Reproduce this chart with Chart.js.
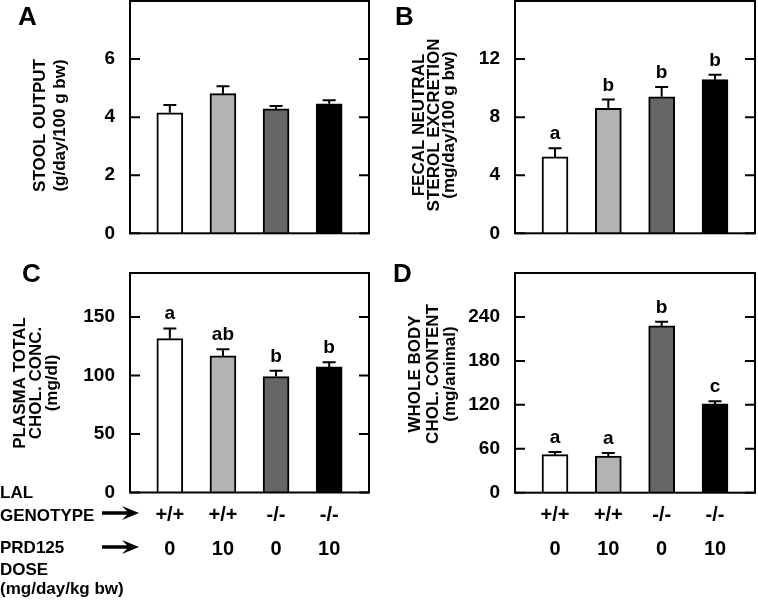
<!DOCTYPE html>
<html><head><meta charset="utf-8">
<script src="https://cdn.jsdelivr.net/npm/chart.js@4"></script>
<style>
html,body{margin:0;padding:0;background:#fff;}
body{width:758px;height:601px;position:relative;overflow:hidden;}
canvas{position:absolute;}
</style></head><body>
<canvas id="cA" width="380" height="250" style="left:0;top:0"></canvas>
<canvas id="cB" width="378" height="250" style="left:380px;top:0"></canvas>
<canvas id="cC" width="380" height="351" style="left:0;top:250px"></canvas>
<canvas id="cD" width="378" height="351" style="left:380px;top:250px"></canvas>
<script>
// ---- data ----
const genotype = ['+/+', '+/+', '-/-', '-/-'];
const dose = ['0', '10', '0', '10'];
const barColors = ['#ffffff', '#b3b3b3', '#666666', '#000000'];

const stoolOutput = [4.15, 4.81, 4.29, 4.46];
const stoolOutputSem = [0.27, 0.25, 0.09, 0.12];
const stoolOutputSig = ['', '', '', ''];
const stoolTicks = [0, 2, 4, 6];

const fecalSterol = [5.26, 8.60, 9.40, 10.58];
const fecalSterolSem = [0.60, 0.61, 0.68, 0.34];
const fecalSterolSig = ['a', 'b', 'b', 'b'];
const fecalTicks = [0, 4, 8, 12];

const plasmaChol = [131.5, 116.7, 99.0, 107.3];
const plasmaCholSem = [8.6, 5.7, 5.1, 4.0];
const plasmaCholSig = ['a', 'ab', 'b', 'b'];
const plasmaTicks = [0, 50, 100, 150];

const wholeBodyChol = [51.9, 50.1, 227.7, 121.2];
const wholeBodyCholSem = [3.7, 4.1, 5.9, 3.8];
const wholeBodyCholSig = ['a', 'a', 'b', 'c'];
const wholeBodyTicks = [0, 60, 120, 180, 240];

const FONT = "'Liberation Sans', Arial, Helvetica, sans-serif";

function panelPlugin(cfg) {
  return {
    id: 'panel' + cfg.letter,
    afterDatasetsDraw(chart) {
      const ctx = chart.ctx;
      const ys = chart.scales.y;
      const meta = chart.getDatasetMeta(0);
      ctx.save();
      ctx.strokeStyle = '#000';
      ctx.lineWidth = 2;
      ctx.fillStyle = '#000';
      ctx.font = 'bold 19px ' + FONT;
      ctx.textAlign = 'center';
      ctx.textBaseline = 'alphabetic';
      cfg.values.forEach((v, i) => {
        const el = meta.data[i];
        const x = el.x;
        const yb = ys.getPixelForValue(v);
        const yt = ys.getPixelForValue(v + cfg.sem[i]);
        ctx.beginPath();
        ctx.moveTo(x, yb);
        ctx.lineTo(x, yt);
        ctx.moveTo(x - 6.5, yt);
        ctx.lineTo(x + 6.5, yt);
        ctx.stroke();
        if (cfg.sig[i]) ctx.fillText(cfg.sig[i], x, yt - 9);
      });
      ctx.restore();
    },
    afterDraw(chart) {
      const ctx = chart.ctx;
      const a = chart.chartArea;
      const ys = chart.scales.y;
      ctx.save();
      ctx.strokeStyle = '#000';
      ctx.lineWidth = 2;
      ctx.strokeRect(a.left, a.top, a.right - a.left, a.bottom - a.top);
      ctx.beginPath();
      ys.ticks.forEach(t => {
        const py = ys.getPixelForValue(t.value);
        ctx.moveTo(a.left, py); ctx.lineTo(a.left + 10, py);
        ctx.moveTo(a.right - 10, py); ctx.lineTo(a.right, py);
      });
      ctx.stroke();
      // panel letter
      ctx.fillStyle = '#000';
      ctx.font = 'bold 26px ' + FONT;
      ctx.textAlign = 'left';
      ctx.textBaseline = 'alphabetic';
      ctx.fillText(cfg.letter, cfg.letterPos[0], cfg.letterPos[1]);
      // y title
      ctx.font = 'bold 17px ' + FONT;
      ctx.textAlign = 'center';
      ctx.textBaseline = 'middle';
      cfg.title.forEach((line, i) => {
        ctx.save();
        ctx.translate(cfg.titleX[i], cfg.titleY);
        ctx.rotate(-Math.PI / 2);
        ctx.fillText(line, 0, 0);
        ctx.restore();
      });
      // left legend rows
      if (cfg.rowLabels) {
        ctx.font = 'bold 17px ' + FONT;
        ctx.textAlign = 'left';
        ctx.textBaseline = 'alphabetic';
        cfg.rowLabels.forEach(r => ctx.fillText(r[0], r[1], r[2]));
        cfg.arrows.forEach(y => {
          ctx.beginPath();
          ctx.moveTo(102, y - 1.8);
          ctx.lineTo(127, y - 1.8);
          ctx.lineTo(122, y - 7);
          ctx.lineTo(139, y);
          ctx.lineTo(122, y + 7);
          ctx.lineTo(127, y + 1.8);
          ctx.lineTo(102, y + 1.8);
          ctx.closePath();
          ctx.fill();
        });
      }
      ctx.restore();
    }
  };
}

function makePanel(id, cfg) {
  const canvas = document.getElementById(id);
  const H = canvas.height;
  new Chart(canvas, {
    type: 'bar',
    data: {
      datasets: [{
        data: cfg.values.map((v, i) => ({ x: i, y: v })),
        backgroundColor: barColors,
        borderColor: '#000',
        borderWidth: 2,
        barThickness: 26
      }]
    },
    options: {
      responsive: false,
      animation: false,
      events: [],
      layout: { padding: { top: cfg.top, right: cfg.right, left: 0, bottom: 0 } },
      plugins: { legend: { display: false }, tooltip: { enabled: false } },
      scales: {
        x: {
          type: 'linear',
          min: -0.75,
          max: 3.75,
          offset: false,
          grid: { display: false },
          border: { display: false },
          afterBuildTicks: s => { s.ticks = genotype.map((g, i) => ({ value: i })); },
          afterFit: s => { s.height = H - cfg.bottom; s.paddingLeft = 0; s.paddingRight = 0; },
          ticks: {
            display: cfg.showX,
            autoSkip: false,
            maxRotation: 0,
            padding: -2.5,
            color: '#000',
            font: { family: FONT, size: 20, weight: 'bold', lineHeight: '34px' },
            callback: v => [genotype[v], dose[v]]
          }
        },
        y: {
          min: 0,
          max: cfg.max,
          grid: { display: false },
          border: { display: false },
          afterBuildTicks: s => { s.ticks = cfg.ticks.map(v => ({ value: v })); },
          afterFit: s => { s.width = cfg.left; s.paddingTop = 0; s.paddingBottom = 0; },
          ticks: {
            padding: 7,
            color: '#000',
            font: { family: FONT, size: 19, weight: 'bold' }
          }
        }
      }
    },
    plugins: [panelPlugin(cfg)]
  });
}

makePanel('cA', {
  letter: 'A', letterPos: [18, 25],
  values: stoolOutput, sem: stoolOutputSem, sig: stoolOutputSig, ticks: stoolTicks, max: 8,
  top: 1, bottom: 233.3, left: 130, right: 11, showX: false,
  title: ['STOOL OUTPUT', '(g/day/100 g bw)'], titleX: [40, 60], titleY: 125.5
});
makePanel('cB', {
  letter: 'B', letterPos: [15, 25],
  values: fecalSterol, sem: fecalSterolSem, sig: fecalSterolSig, ticks: fecalTicks, max: 16,
  top: 1, bottom: 233.3, left: 135, right: 3, showX: false,
  title: ['FECAL NEUTRAL', 'STEROL EXCRETION', '(mg/day/100 g bw)'], titleX: [39, 54, 69], titleY: 125
});
makePanel('cC', {
  letter: 'C', letterPos: [22, 32],
  values: plasmaChol, sem: plasmaCholSem, sig: plasmaCholSig, ticks: plasmaTicks, max: 187.5,
  top: 23, bottom: 242.5, left: 130, right: 11, showX: true,
  title: ['PLASMA TOTAL', 'CHOL. CONC.', '(mg/dl)'], titleX: [20.5, 36, 52], titleY: 133,
  rowLabels: [['LAL', 0, 248], ['GENOTYPE', 0, 271], ['PRD125', 0, 303], ['DOSE', 0, 325], ['(mg/day/kg bw)', 0, 344]],
  arrows: [263, 297]
});
makePanel('cD', {
  letter: 'D', letterPos: [13, 32],
  values: wholeBodyChol, sem: wholeBodyCholSem, sig: wholeBodyCholSig, ticks: wholeBodyTicks, max: 300,
  top: 23, bottom: 242.7, left: 135, right: 3, showX: true,
  title: ['WHOLE BODY', 'CHOL. CONTENT', '(mg/animal)'], titleX: [35.5, 53, 70], titleY: 124
});
</script>
</body></html>
